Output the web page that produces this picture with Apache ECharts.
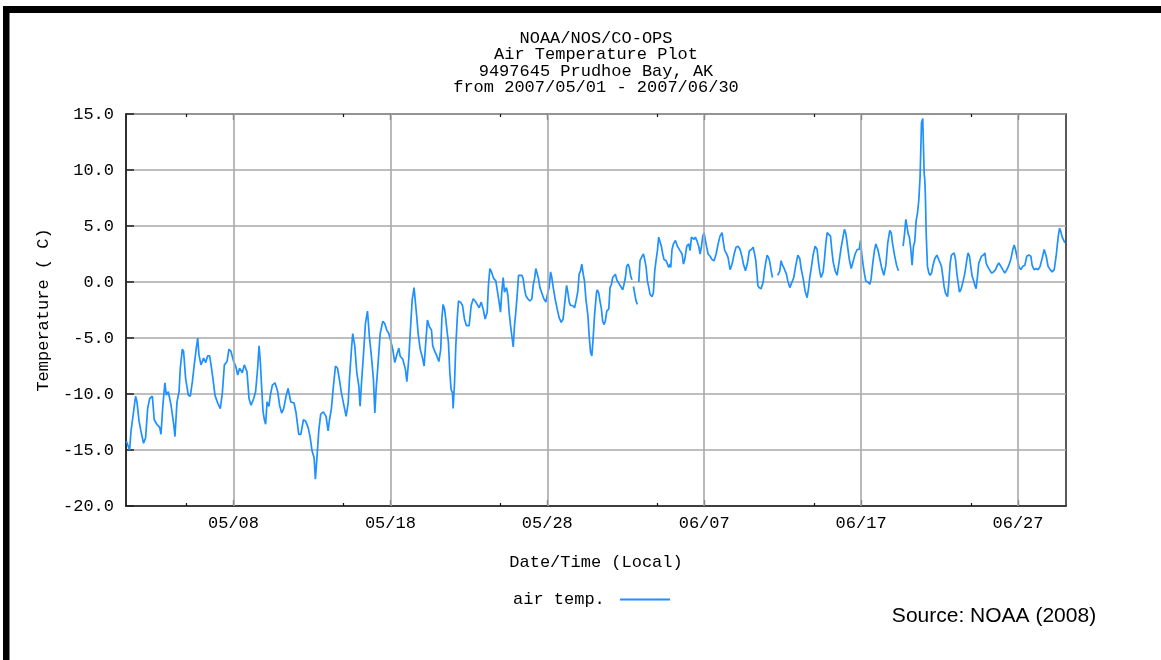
<!DOCTYPE html>
<html><head><meta charset="utf-8">
<script src="https://cdn.jsdelivr.net/npm/echarts@6/dist/echarts.min.js"></script>
<style>html,body{margin:0;padding:0;background:#fff}#c{width:1161px;height:660px}</style>
</head><body><div id="c"></div>
<script>
const titleLines = ['NOAA/NOS/CO-OPS', 'Air Temperature Plot', '9497645 Prudhoe Bay, AK', 'from 2007/05/01 - 2007/06/30'];
const seriesName = 'air temp.';
const xAxisTitle = 'Date/Time (Local)';
const yAxisTitle = 'Temperature ( C)';
const sourceNote = 'Source: NOAA (2008)';
// x values are days since 2007/05/01 00:00 (local)
const dateLabels = ['05/08', '05/18', '05/28', '06/07', '06/17', '06/27'];
const labelDays = [7, 17, 27, 37, 47, 57];
const minorTickDays = [4, 14, 24, 34, 44, 54];
const xMin = 0.15, xMax = 60.06;

const days = [
  // 05/01 - 05/11
  0.17,0.38,0.47,0.64,0.76, 0.85,0.98,1.10,1.27,1.40, 1.53,1.66,1.83,1.95,2.12, 2.30,2.38,2.50,2.63,2.72,
  2.85,3.02,3.19,3.27,3.40, 3.53,3.61,3.74,3.82,3.95, 4.12,4.25,4.38,4.50,4.63, 4.72,4.80,4.93,5.10,5.23,
  5.35,5.48,5.57,5.69,5.82, 5.99,6.16,6.29,6.42,6.59, 6.71,6.84,7.01,7.14,7.27, 7.39,7.56,7.69,7.86,7.99,
  8.12,8.29,8.41,8.54,8.63, 8.71,8.80,8.88,8.97,9.05, 9.14,9.26,9.35,9.48,9.65, 9.82,9.94,10.07,10.20,
  // 05/11 - 05/21
  10.35,10.48,10.65,10.86,10.99, 11.16,11.29,11.46,11.59,11.76, 11.88,12.01,12.14,12.22,12.31, 12.44,12.56,12.73,12.90,13.03,
  13.12,13.24,13.37,13.50,13.63, 13.75,13.88,14.05,14.18,14.31, 14.39,14.52,14.60,14.73,14.86, 14.99,15.07,15.16,15.28,15.41,
  15.54,15.67,15.79,15.92,16.01, 16.09,16.22,16.35,16.52,16.64, 16.77,16.90,17.03,17.15,17.28, 17.41,17.54,17.62,17.79,17.96,
  18.05,18.17,18.30,18.39,18.51, 18.60,18.68,18.77,18.90,19.02, 19.15,19.24,19.36,19.49,19.62, 19.70,19.83,19.96,20.09,20.21,
  // 05/21 - 05/31
  20.28,20.36,20.45,20.53,20.62, 20.70,20.79,20.87,20.96,21.00, 21.09,21.17,21.26,21.34,21.47, 21.60,21.72,21.85,22.02,22.15,
  22.28,22.40,22.53,22.66,22.79, 22.91,23.04,23.17,23.25,23.34, 23.42,23.51,23.59,23.72,23.81, 23.93,24.02,24.10,24.19,24.27,
  24.40,24.49,24.57,24.66,24.74, 24.83,24.91,25.00,25.08,25.17, 25.25,25.38,25.46,25.55,25.63, 25.76,25.89,26.02,26.10,26.19,
  26.27,26.36,26.44,26.53,26.65, 26.78,26.91,27.04,27.12,27.21, 27.29,27.38,27.50,27.63,27.76, 27.89,28.01,28.14,28.23,28.31,
  28.40,28.48,28.61,28.74,28.86, 28.95,29.03,29.12,29.20,29.29, 29.37,29.46,29.59,29.67,29.76, 29.84,29.92,30.01,30.14,
  // 05/31 - 06/10
  30.19,30.28,30.36,30.45,30.53, 30.62,30.70,30.79,30.92,31.00, 31.09,31.17,31.26,31.34,31.43, 31.55,31.68,31.81,31.89,31.98,
  32.06,32.15,32.23,32.32,32.40, 32.45,32.49,32.57,32.66,32.74, 32.78,32.83,32.91,33.04,33.13, 33.21,33.30,33.38,33.47,33.55,
  33.68,33.76,33.85,33.93,34.02, 34.10,34.19,34.27,34.36,34.44, 34.57,34.66,34.74,34.83,34.87, 34.95,35.04,35.17,35.29,35.38,
  35.46,35.59,35.68,35.76,35.89, 36.02,36.10,36.19,36.27,36.36, 36.44,36.53,36.65,36.74,36.82, 36.91,36.99,37.08,37.16,37.25,
  37.38,37.50,37.63,37.76,37.89, 38.01,38.14,38.23,38.31,38.40, 38.52,38.65,38.78,38.91,39.03, 39.16,39.29,39.42,39.50,39.63,
  39.76,39.88,40.01,40.12,
  // 06/10 - 06/20
  40.20,40.29,40.37,40.42,40.50, 40.63,40.76,40.84,40.93,41.01, 41.10,41.18,41.27,41.35,41.50, 41.69,41.82,41.90,41.99,42.07,
  42.16,42.24,42.33,42.46,42.58, 42.71,42.84,42.97,43.09,43.18, 43.31,43.43,43.56,43.65,43.73, 43.82,43.94,44.07,44.20,44.28,
  44.37,44.45,44.58,44.67,44.75, 44.84,44.96,45.05,45.13,45.22, 45.35,45.47,45.60,45.73,45.86, 45.94,46.03,46.11,46.24,46.37,
  46.49,46.62,46.75,46.88,46.96, 47.05,47.13,47.22,47.30,47.43, 47.56,47.64,47.73,47.85,47.94, 48.07,48.19,48.32,48.45,48.58,
  48.70,48.83,48.92,49.00,49.13, 49.26,49.38,49.50,49.68,49.77, 49.85,
  // 06/20 - 06/30
  49.91,50.00,50.08,50.17,50.25, 50.34,50.42,50.51,50.59,50.68, 50.76,50.85,50.93,50.98,51.02, 51.06,51.10,51.15,51.23,51.32,
  51.40,51.49,51.57,51.70,51.83, 51.95,52.04,52.12,52.21,52.29, 52.38,52.51,52.59,52.68,52.76, 52.85,52.93,53.02,53.10,53.19,
  53.27,53.36,53.44,53.57,53.65, 53.74,53.82,53.91,53.99,54.08, 54.16,54.25,54.33,54.42,54.50, 54.59,54.67,54.80,54.89,54.97,
  55.06,55.18,55.31,55.44,55.57, 55.69,55.78,55.91,56.03,56.16, 56.29,56.42,56.54,56.67,56.76, 56.84,56.97,57.05,57.18,57.31,
  57.44,57.56,57.69,57.82,57.90, 58.03,58.16,58.29,58.41,58.54, 58.67,58.80,58.92,59.05,59.18, 59.31,59.43,59.56,59.65,59.73,
  59.82,59.90,59.99
];
const temps = [
  // 05/01 - 05/11
  -14.2,-15.0,-13.3,-11.5,-10.2, -10.7,-12.4,-13.3,-14.4,-13.9, -11.3,-10.4,-10.2,-12.3,-12.7, -13.0,-13.6,-11.0,-9.0,-10.1,
  -9.8,-11.0,-12.7,-13.8,-10.7, -9.8,-7.7,-6.0,-6.2,-8.6, -10.1,-10.2,-8.9,-7.4,-5.9, -5.0,-6.5,-7.4,-6.8,-7.2,
  -6.6,-6.6,-7.4,-8.6,-10.1, -10.8,-11.3,-9.9,-7.4,-7.1, -6.0,-6.2,-7.1,-7.5,-8.3, -7.7,-8.1,-7.4,-8.0,-10.4,
  -11.0,-10.4,-9.8,-7.7,-5.7, -7.1,-9.5,-11.5,-12.3,-12.7, -10.7,-11.1,-10.1,-9.2,-9.0, -9.8,-11.0,-11.7,-11.3,
  // 05/11 - 05/21
  -10.2,-9.5,-10.7,-10.8,-11.7, -13.6,-13.6,-12.3,-12.4,-13.0, -13.8,-15.1,-15.7,-17.6,-15.9, -13.2,-11.8,-11.6,-12.0,-13.3,
  -12.3,-11.3,-9.3,-7.5,-7.7, -8.7,-9.9,-11.1,-12.0,-10.8, -8.7,-6.0,-4.6,-5.7,-8.1, -9.3,-11.1,-9.0,-6.6,-3.7,
  -2.6,-5.0,-6.6,-8.7,-11.7, -9.6,-7.2,-4.6,-3.5,-3.7, -4.3,-4.6,-5.3,-6.0,-7.2, -6.5,-5.9,-6.6,-6.9,-7.8,
  -8.9,-6.9,-3.7,-1.6,-0.5, -1.9,-3.1,-4.6,-6.0,-6.6, -7.5,-5.7,-3.4,-4.0,-4.3, -5.7,-6.2,-6.6,-7.1,-6.0,
  // 05/21 - 05/31
  -3.3,-2.0,-2.4,-3.3,-4.5, -5.4,-8.1,-9.6,-9.9,-11.3, -9.0,-5.7,-3.3,-1.7,-1.8, -2.1,-3.3,-3.9,-3.9,-2.1,
  -1.5,-1.7,-2.0,-2.3,-1.8, -2.4,-3.3,-2.7,-0.3,1.2, 1.0,0.6,0.3,0.1,0.0, -1.8,-2.7,-0.9,0.4,-0.9,
  -0.5,-1.2,-2.7,-3.9,-4.8, -5.8,-3.9,-2.6,-1.2,0.6, 0.7,0.6,0.3,-0.6,-1.2, -1.5,-1.7,-1.5,-0.3,0.3,
  1.2,1.3,0.3,-0.5,-0.6, -1.5,-1.8,-0.9,-0.5,0.9, 0.4,-0.5,-1.5,-2.4,-3.2, -3.6,-3.3,-1.5,-0.3,-0.9,
  -1.8,-2.1,-2.1,-2.3,-1.5, -0.8,0.7,1.0,1.6,0.7, 0.1,-1.5,-3.0,-4.8,-6.3, -6.6,-5.1,-3.0,-0.9,
  // 05/31 - 06/10
  -0.7,-1.0,-1.7,-2.4,-3.5, -3.8,-3.5,-2.6,-2.4,-0.5, -0.2,0.4,0.5,0.7,0.2, -0.1,-0.4,-0.7,-0.2,0.4,
  1.4,1.6,1.3,0.5,0.2, null,-0.4,-0.5,-1.7,-2.0, null,0.0,1.9,2.3,2.5, 2.0,1.3,0.1,-0.5,-1.1,
  -1.3,-1.0,1.0,1.9,2.8, 4.0,4.1,3.2,2.5,2.0, 1.9,1.6,1.3,1.6,1.3, 2.9,3.4,3.7,3.2,3.1,
  2.8,2.5,1.6,2.0,3.2, 3.4,2.8,4.0,4.1,3.8, 4.0,3.7,3.2,2.5,3.1, 4.1,4.4,3.7,3.1,2.5,
  2.3,2.0,1.9,2.5,3.4, 4.1,4.4,3.5,2.8,2.6, 2.2,1.1,1.6,2.5,3.1, 3.2,2.9,2.2,1.6,1.0,
  1.7,2.8,2.9,3.1,
  // 06/10 - 06/20
  2.6,1.9,0.6,-0.3,-0.5, -0.6,0.0,1.0,1.8,2.4, 2.2,1.8,1.0,0.4,null, 0.6,1.0,1.9,1.5,1.3,
  1.2,0.7,0.1,-0.5,-0.5, 0.4,1.5,2.4,2.1,1.2, 0.3,-0.8,-1.4,-0.6,0.4, 1.2,2.4,3.2,2.9,1.8,
  0.9,0.4,0.9,2.1,3.4, 4.4,4.5,4.1,2.9,1.8, 1.0,0.6,1.8,3.1,4.1, 4.7,4.3,3.5,2.1,1.2,
  1.8,2.5,2.9,2.9,3.7, 2.4,1.5,0.7,0.1,0.0, -0.2,0.3,1.5,2.8,3.4, 2.9,2.1,1.2,0.6,1.5,
  3.5,4.6,4.4,3.5,2.4, 1.5,1.0,null,3.2,4.3, 5.6,
  // 06/20 - 06/30
  5.1,4.3,4.0,2.9,1.5, 3.2,3.6,5.5,6.1,7.3, 9.4,14.2,14.6,11.8,9.7, 9.1,7.6,4.3,1.4,0.8,
  0.6,0.8,1.4,2.1,2.4, 2.3,1.7,1.4,0.5,-0.4, -1.0,-1.3,-0.1,1.7,2.4, 2.3,2.6,2.0,0.8,-0.1,
  -0.9,-0.7,-0.3,0.5,1.1, 2.0,2.6,2.3,1.4,0.5, 0.2,-0.3,-0.6,0.5,1.7, 2.0,2.3,2.4,2.6,1.7,
  1.4,1.1,0.8,0.9,1.1, 1.5,1.7,1.4,1.1,0.8, 1.1,1.5,2.0,2.9,3.3, 2.9,2.0,1.4,1.1,1.4,
  1.5,2.3,2.4,2.3,1.5, 1.1,1.2,1.1,1.4,2.1, 2.9,2.3,1.4,1.1,0.9, 1.1,2.3,4.0,4.8,4.5,
  4.0,3.9,3.5
];

const MONO = 'Liberation Mono';
const FS = 17;
const n = Math.min(days.length, temps.length);
const lineData = [];
for (let i = 0; i < n; i++) lineData.push([days[i], temps[i]]);

function nearestLabel(v) {
  let best = 0;
  for (let i = 1; i < labelDays.length; i++) if (Math.abs(labelDays[i] - v) < Math.abs(labelDays[best] - v)) best = i;
  return dateLabels[best];
}
const hiddenX = (pos, ticks, len) => ({
  type: 'value', min: xMin, max: xMax, position: pos,
  axisLine: { show: false, onZero: false }, axisLabel: { show: false }, splitLine: { show: false },
  axisTick: { show: true, inside: true, length: len, customValues: ticks, lineStyle: { color: '#111', width: 1.2 } }
});

const chart = echarts.init(document.getElementById('c'), null, { renderer: 'canvas' });
chart.setOption({
  animation: false,
  backgroundColor: '#fff',
  title: {
    text: titleLines.join('\n'), left: 596, top: 30, textAlign: 'center', padding: 0,
    textStyle: { fontFamily: MONO, fontSize: FS, fontWeight: 'normal', color: '#000', lineHeight: 16.4 }
  },
  legend: {
    data: [seriesName], left: 513, top: 591, padding: 0, align: 'right', icon: 'rect', itemWidth: 50, itemHeight: 2,
    formatter: name => name + ' ', selectedMode: false,
    textStyle: { fontFamily: MONO, fontSize: FS, color: '#000' }
  },
  grid: { left: 126, right: 95, top: 114, bottom: 154, show: true, borderColor: '#222', borderWidth: 1.5 },
  xAxis: [
    {
      type: 'value', min: xMin, max: xMax, position: 'bottom',
      name: xAxisTitle, nameLocation: 'middle', nameGap: 48,
      nameTextStyle: { fontFamily: MONO, fontSize: FS, color: '#000' },
      axisLine: { show: true, onZero: false, lineStyle: { color: '#222', width: 1.5 } },
      axisTick: { show: true, inside: true, length: 6, customValues: labelDays, lineStyle: { color: '#111', width: 1.2 } },
      axisLabel: { customValues: labelDays, formatter: v => nearestLabel(v), margin: 9, fontFamily: MONO, fontSize: FS, color: '#000' },
      splitLine: { show: false }
    },
    hiddenX('bottom', minorTickDays, 3),
    hiddenX('top', minorTickDays, 3),
    hiddenX('top', labelDays, 6)
  ],
  yAxis: {
    type: 'value', min: -20, max: 15, interval: 5,
    name: yAxisTitle, nameLocation: 'middle', nameGap: 74, nameRotate: 90,
    nameTextStyle: { fontFamily: MONO, fontSize: FS, color: '#000' },
    axisLine: { show: true, onZero: false, lineStyle: { color: '#222', width: 1.5 } },
    axisTick: { show: true, inside: true, length: 8, lineStyle: { color: '#222', width: 1.5 } },
    axisLabel: { formatter: v => v.toFixed(1), margin: 12, fontFamily: MONO, fontSize: FS, color: '#000' },
    splitLine: { show: true, lineStyle: { color: '#a9a9a9', width: 1.6 } }
  },
  series: [
    {
      type: 'line', data: [], z: 1, silent: true, xAxisIndex: 0,
      markLine: {
        silent: true, symbol: 'none', animation: false, label: { show: false },
        lineStyle: { color: '#a9a9a9', width: 1.6, type: 'solid' },
        emphasis: { disabled: true },
        data: labelDays.map(d => ({ xAxis: d }))
      }
    },
    {
      name: seriesName, type: 'line', data: lineData, xAxisIndex: 0, z: 3,
      showSymbol: false, symbol: 'none', connectNulls: false, silent: true,
      lineStyle: { color: '#1E90FF', width: 1.7 }, itemStyle: { color: '#1E90FF' }
    }
  ],
  graphic: [
    { type: 'rect', shape: { x: 3, y: 6, width: 1158, height: 7 }, style: { fill: '#000' } },
    { type: 'rect', shape: { x: 3, y: 6, width: 6.5, height: 654 }, style: { fill: '#000' } },
    {
      type: 'text', x: 994, y: 616,
      style: { text: sourceNote, fill: '#000', font: '21px "Liberation Sans"', align: 'center', verticalAlign: 'middle', textAlign: 'center', textVerticalAlign: 'middle' }
    }
  ]
});
</script></body></html>
